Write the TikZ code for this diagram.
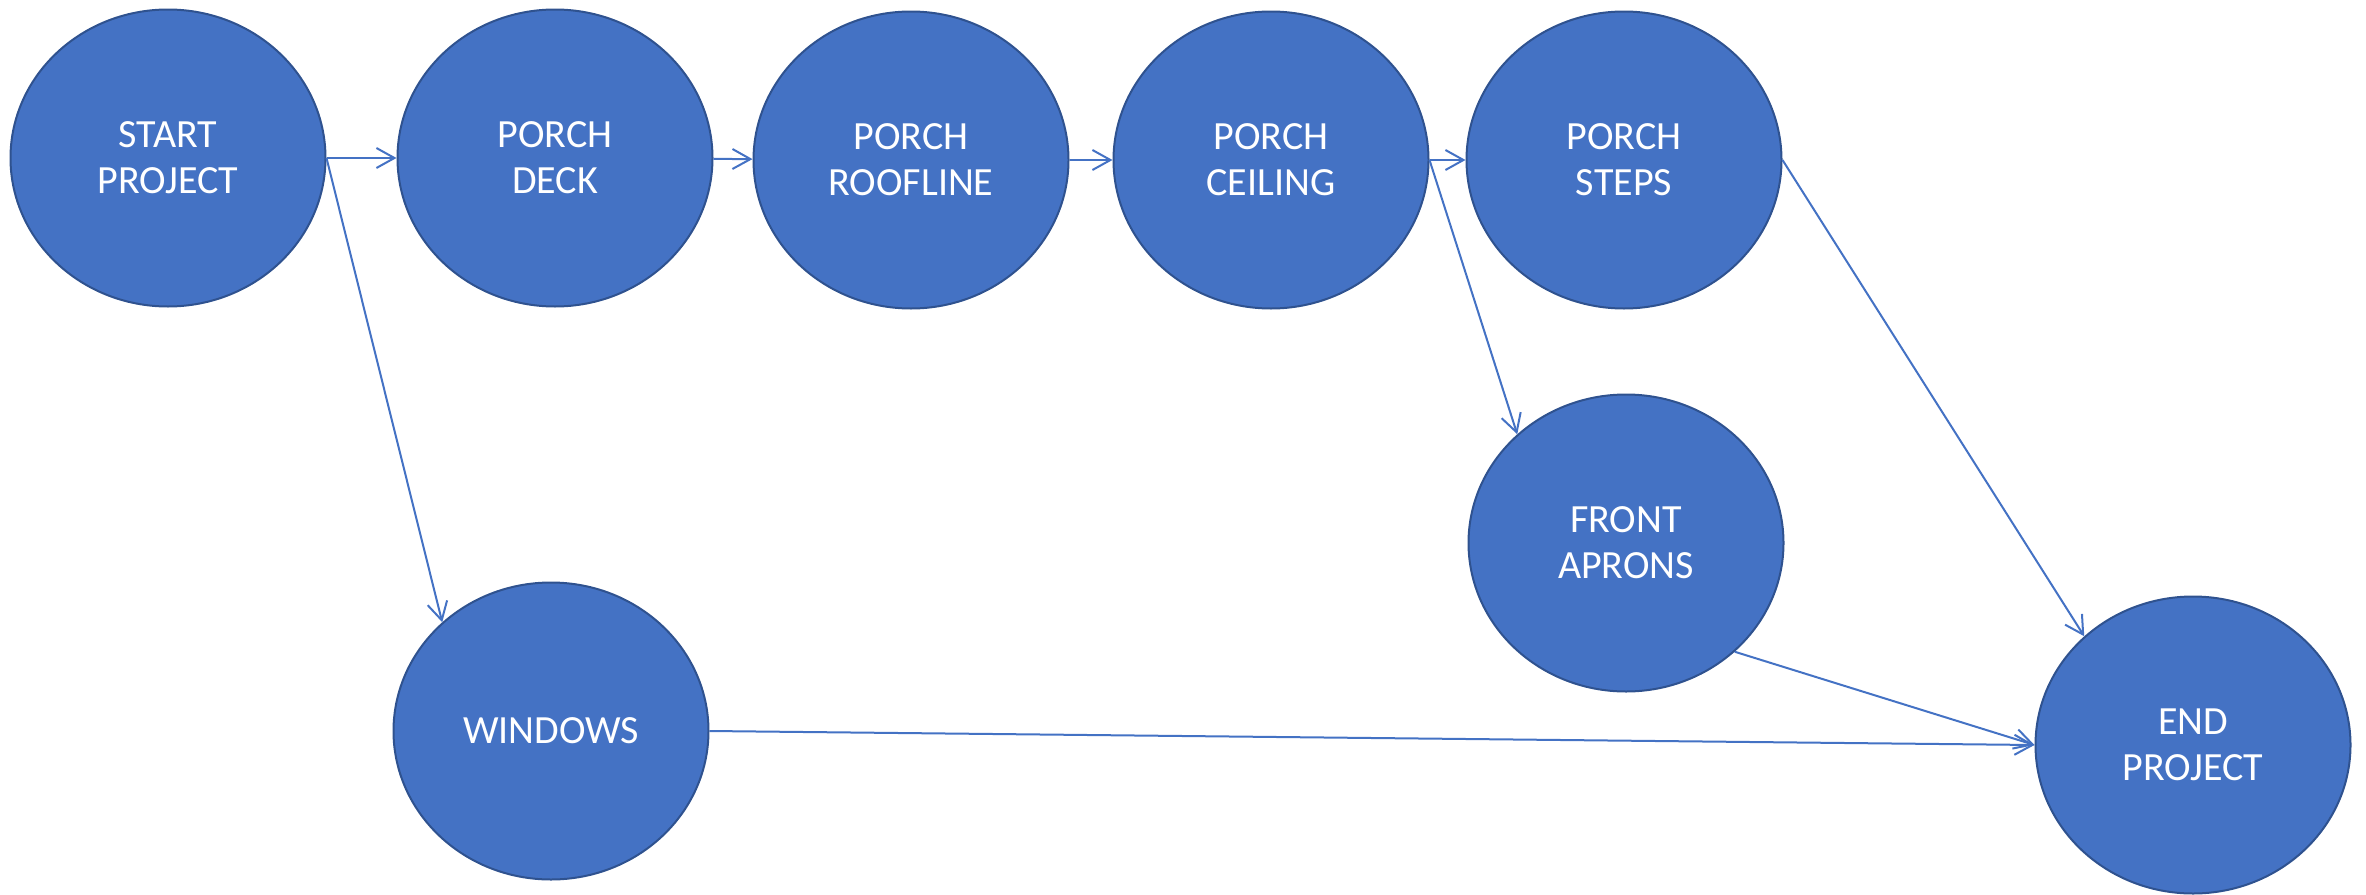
\documentclass[tikz,border=0pt]{standalone}
\usepackage{fontspec}
\setmainfont{Carlito}
\usetikzlibrary{shapes.geometric,arrows.meta}
\definecolor{taskblue}{HTML}{4472C4}
\definecolor{taskedge}{HTML}{2F528F}
\begin{document}
\begin{tikzpicture}[x=1pt,y=-1pt,
  task/.style={ellipse,fill=taskblue,draw=taskedge,line width=2pt,
    minimum width=315pt,minimum height=297pt,inner sep=0pt,align=center,
    text=white,font=\fontsize{40}{46}\selectfont},
  link/.style={draw=taskblue,line width=2pt,-{Straight Barb[length=18pt,width=20pt]}}]
\useasboundingbox (0,0) rectangle (2366,894);
% top row
\node[task] (start) at (168,158) {START\\PROJECT};
\node[task] (deck) at (555,158) {PORCH\\DECK};
\node[task] (roofline) at (911,160) {PORCH\\ROOFLINE};
\node[task] (ceiling) at (1271,160) {PORCH\\CEILING};
\node[task] (steps) at (1624,160) {PORCH\\STEPS};
% lower nodes
\node[task] (aprons) at (1626,543) {FRONT\\APRONS};
\node[task] (windows) at (551,731) {WINDOWS};
\node[task] (end) at (2193,745) {END\\PROJECT};
% links
\draw[link] (start) -- (deck);
\draw[link] (deck) -- (roofline);
\draw[link] (roofline) -- (ceiling);
\draw[link] (ceiling) -- (steps);
\draw[link] (start.east) -- (windows.135);
\draw[link] (ceiling.east) -- (aprons.135);
\draw[link] (steps.east) -- (end.135);
\draw[link] (aprons.-45) -- (end.west);
\draw[link] (windows.east) -- (end.west);
\end{tikzpicture}
\end{document}
